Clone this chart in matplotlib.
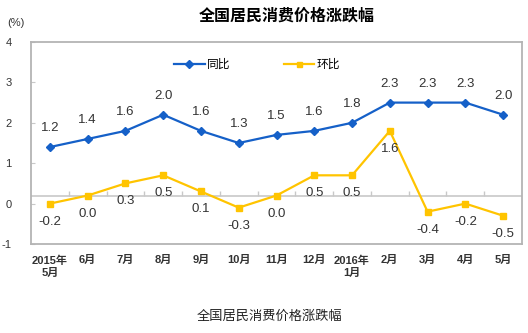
import matplotlib
matplotlib.use("Agg")
import matplotlib.pyplot as plt
import numpy as np

plt.rcParams['font.family'] = ['Liberation Sans', 'Noto Sans CJK SC', 'DejaVu Sans']

months = ["2015年\n5月", "6月", "7月", "8月", "9月", "10月", "11月", "12月",
          "2016年\n1月", "2月", "3月", "4月", "5月"]
yoy = [1.2, 1.4, 1.6, 2.0, 1.6, 1.3, 1.5, 1.6, 1.8, 2.3, 2.3, 2.3, 2.0]
mom = [-0.2, 0.0, 0.3, 0.5, 0.1, -0.3, 0.0, 0.5, 0.5, 1.6, -0.4, -0.2, -0.5]
ytick_vals = [-1, 0, 1, 2, 3, 4]

blue = '#1560c8'
gold = '#ffc400'

fig = plt.figure(figsize=(5.28, 3.33), dpi=100)
ax = fig.add_axes([31/528, 1-244/333, 491/528, 202/333])

x = np.arange(len(months))
ax.plot(x, yoy, color=blue, lw=1.6, marker='D', ms=4.5, label="同比")
ax.plot(x, mom, color=gold, lw=1.6, marker='s', ms=4.5, label="环比")

for xi, v in zip(x, yoy):
    ax.annotate(f"{v:.1f}", (xi, v), xytext=(0, 19), textcoords='offset pixels',
                ha='center', va='center', fontsize=9.5, color='#333333')
for xi, v in zip(x, mom):
    ax.annotate(f"{v:.1f}", (xi, v), xytext=(0, -18), textcoords='offset pixels',
                ha='center', va='center', fontsize=9.5, color='#333333')

# zero line with small tick marks between categories
ax.axhline(0, color='#c8c8c8', lw=1.2, zorder=0)
ax.vlines(np.arange(0.5, len(months) - 1), 0, 0.1, color='#c8c8c8', lw=1.0, zorder=0)

ax.set_xlim(-0.5, len(months) - 0.5)
ax.set_ylim(-1.2, 3.8)
# the tick labels in the source sit about 0.2 below their true level
ax.set_yticks([v - 0.2 for v in ytick_vals], [str(v) for v in ytick_vals])
ax.set_xticks(x, months)

ax.tick_params(axis='y', direction='in', length=3, color='#c8c8c8', pad=14,
               labelsize=8, labelcolor='#333333')
ax.tick_params(axis='x', length=0, pad=8, labelsize=8, labelcolor='#333333')
for lab in ax.get_xticklabels():
    lab.set_fontweight('bold')
    lab.set_linespacing(1.3)
for sp in ax.spines.values():
    sp.set_color('#b4b4b4')
    sp.set_linewidth(1.3)

ax.legend(loc='center', bbox_to_anchor=(257/528, 1-65/333), bbox_transform=fig.transFigure,
          ncol=2, frameon=False, fontsize=8.5, handlelength=2.6, handletextpad=0.2,
          columnspacing=4.5, markerscale=0.8)

fig.text(287/528, 1-16/333, "全国居民消费价格涨跌幅", ha='center', va='center',
         fontsize=11.5, fontweight='bold')
fig.text(16/528, 1-23/333, "(%)", ha='center', va='center', fontsize=8, color='#333333')
fig.text(270/528, 1-317/333, "全国居民消费价格涨跌幅", ha='center', va='center',
         fontsize=9.5, color='#222222')

fig.savefig("out.png", dpi=100)
